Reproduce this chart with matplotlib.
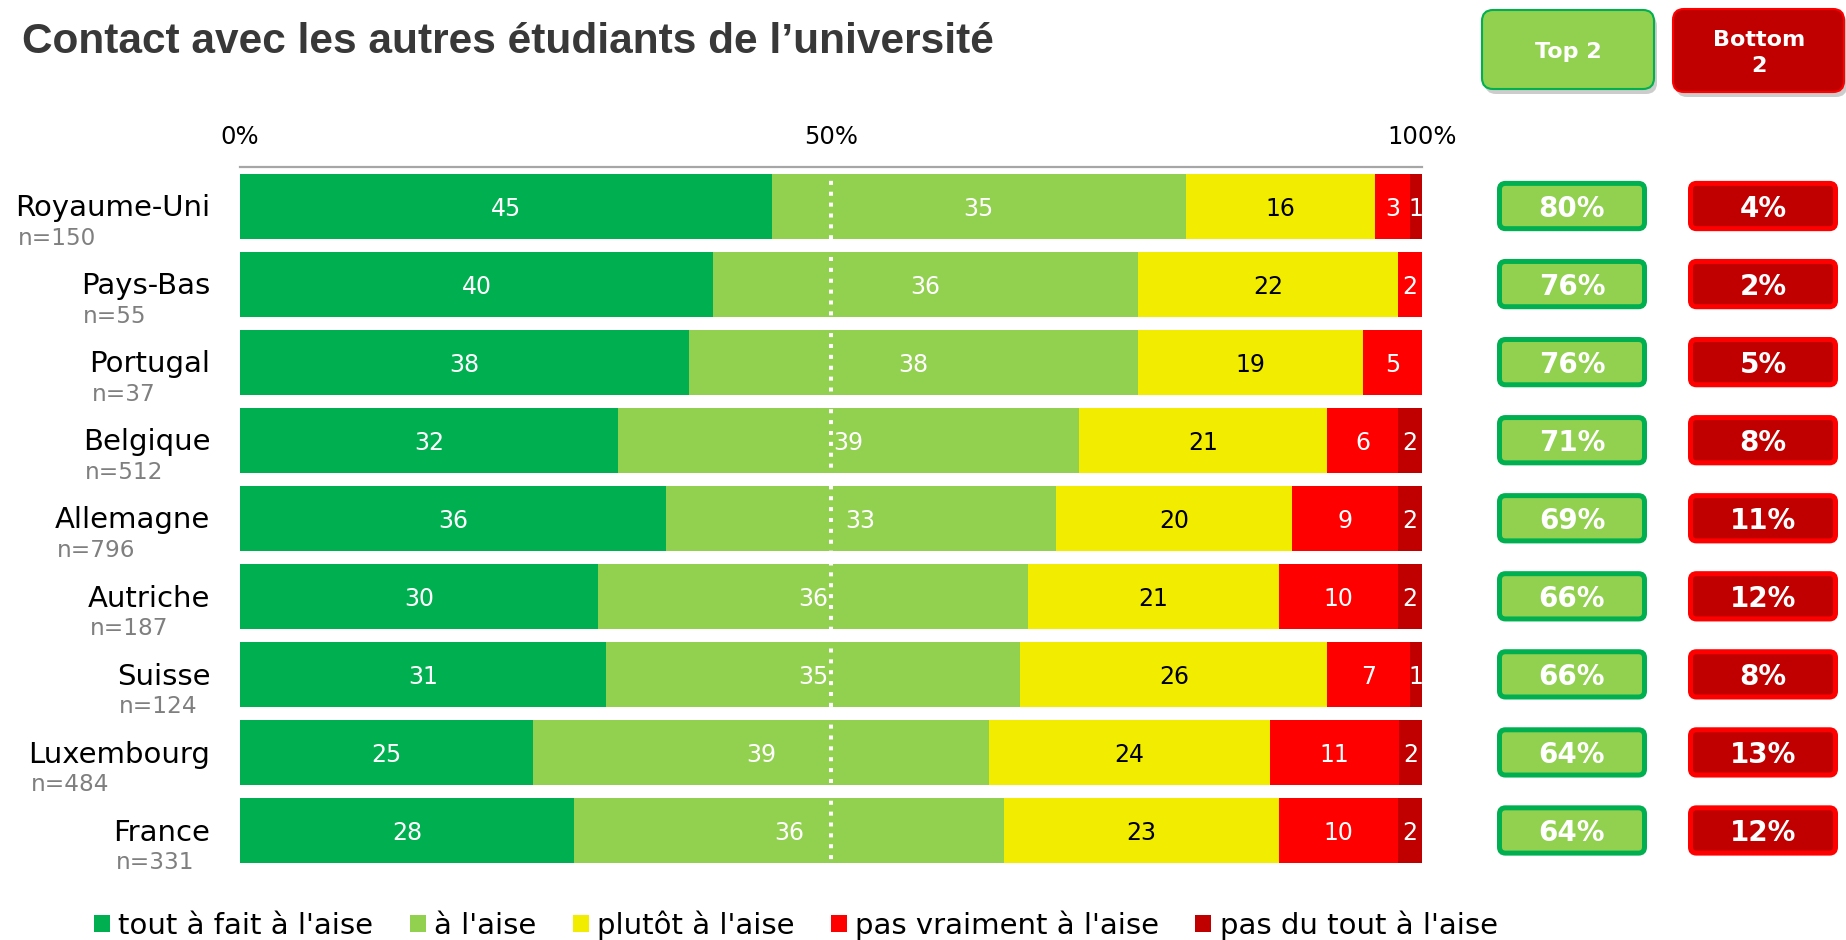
import matplotlib
matplotlib.use('Agg')
import matplotlib.pyplot as plt
from matplotlib.patches import FancyBboxPatch, Patch
import numpy as np

countries = ['Royaume-Uni', 'Pays-Bas', 'Portugal', 'Belgique', 'Allemagne',
             'Autriche', 'Suisse', 'Luxembourg', 'France']
sample_n = [150, 55, 37, 512, 796, 187, 124, 484, 331]
tout_a_fait = [45, 40, 38, 32, 36, 30, 31, 25, 28]
a_l_aise = [35, 36, 38, 39, 33, 36, 35, 39, 36]
plutot = [16, 22, 19, 21, 20, 21, 26, 24, 23]
pas_vraiment = [3, 2, 5, 6, 9, 10, 7, 11, 10]
pas_du_tout = [1, 0, 0, 2, 2, 2, 1, 2, 2]
categories = ["tout à fait à l'aise", "à l'aise", "plutôt à l'aise",
              "pas vraiment à l'aise", "pas du tout à l'aise"]
xticks = [0, 50, 100]
xticklabels = ['0%', '50%', '100%']

colors = ['#00B050', '#92D050', '#F2EC00', '#FF0000', '#C00000']
text_colors = ['white', 'white', 'black', 'white', 'white']

plt.rcParams['font.family'] = ['DejaVu Sans']

vals = np.array([tout_a_fait, a_l_aise, plutot, pas_vraiment, pas_du_tout]).T
# bars are stretched to 100% (rounded values don't always add up)
widths = vals / vals.sum(axis=1, keepdims=True) * 100
top2 = vals[:, 0] + vals[:, 1]
bottom2 = vals[:, 3] + vals[:, 4]

W, H = 1846, 940
fig = plt.figure(figsize=(W / 100, H / 100), dpi=100)

ax_bottom = 1 - 869.5 / H
ax_height = (869.5 - 167) / H
ax = fig.add_axes([240 / W, ax_bottom, 1182 / W, ax_height])

y = np.arange(len(countries))
left = np.zeros(len(countries))
for k in range(5):
    w = widths[:, k]
    ax.barh(y, w, left=left, height=0.833, color=colors[k], zorder=2)
    for i in range(len(countries)):
        if vals[i, k] > 0:
            ax.text(left[i] + w[i] / 2, y[i], str(vals[i, k]), ha='center',
                    va='center_baseline', fontsize=17, color=text_colors[k], zorder=4)
    left += w

# dotted 50% line
ax.axvline(50, color='white', lw=2.9, linestyle=(0, (1, 1.7)), zorder=3)

ax.set_xlim(0, 100)
ax.set_ylim(len(countries) - 0.5, -0.5)
ax.xaxis.tick_top()
ax.set_xticks(xticks)
ax.set_xticklabels(xticklabels, fontsize=17.5)
ax.tick_params(axis='x', length=0, pad=13)
ax.set_yticks([])
for s in ['left', 'right', 'bottom']:
    ax.spines[s].set_visible(False)
ax.spines['top'].set_color('#A6A6A6')
ax.spines['top'].set_linewidth(1.6)

# country names with sample size underneath
trans = ax.get_yaxis_transform()
for i, name in enumerate(countries):
    t = ax.text(-29.5 / 1182, i + 0.131, name, transform=trans, ha='right',
                va='baseline', fontsize=21, color='black')
    ax.annotate(f'n={sample_n[i]}', xy=(0, i + 0.494), xycoords=(t, 'data'),
                xytext=(1.5, 0), textcoords='offset points', ha='left',
                va='baseline', fontsize=16.7, color='#7F7F7F',
                annotation_clip=False)

# Top 2 / Bottom 2 value boxes
ax2 = fig.add_axes([1470 / W, ax_bottom, 376 / W, ax_height])
ax2.set_xlim(1470, 1846)
ax2.set_ylim(len(countries) - 0.5, -0.5)
ax2.axis('off')
for i in range(len(countries)):
    ax2.add_patch(FancyBboxPatch((1499.5, i - 0.29), 145, 0.58,
                                 boxstyle='round,pad=0,rounding_size=6',
                                 mutation_aspect=1 / 78, fc='#92D050',
                                 ec='#00B050', lw=3.6))
    ax2.text(1572, i, f'{top2[i]}%', ha='center', va='center_baseline',
             color='white', fontsize=20, fontweight='bold')
    ax2.add_patch(FancyBboxPatch((1690.5, i - 0.29), 145, 0.58,
                                 boxstyle='round,pad=0,rounding_size=6',
                                 mutation_aspect=1 / 78, fc='#C00000',
                                 ec='#FF0000', lw=3.6))
    ax2.text(1763, i, f'{bottom2[i]}%', ha='center', va='center_baseline',
             color='white', fontsize=20, fontweight='bold')

# header boxes
ax3 = fig.add_axes([0, 0, 1, 1])
ax3.set_xlim(0, W)
ax3.set_ylim(H, 0)
ax3.axis('off')
for (x0, y0, bw, bh, fc, ec) in [(1482, 10, 172, 79, '#92D050', '#00B050'),
                                 (1673, 9, 171, 83, '#C00000', '#FF0000')]:
    ax3.add_patch(FancyBboxPatch((x0 + 3, y0 + 5), bw, bh,
                                 boxstyle='round,pad=0,rounding_size=11',
                                 fc='black', ec='none', alpha=0.2))
    ax3.add_patch(FancyBboxPatch((x0, y0), bw, bh,
                                 boxstyle='round,pad=0,rounding_size=11',
                                 fc=fc, ec=ec, lw=1.5))
ax3.text(1568, 50, 'Top 2', ha='center', va='center_baseline', color='white',
         fontsize=16, fontweight='bold')
ax3.text(1759, 53, 'Bottom\n2', ha='center', va='center', color='white',
         fontsize=16, fontweight='bold', linespacing=1.32)

fig.text(22 / W, 1 - 53.3 / H, 'Contact avec les autres étudiants de l’université',
         fontsize=30.5, fontweight='bold', family=['Liberation Sans', 'DejaVu Sans'],
         color='#383838', va='baseline')

handles = [Patch(facecolor=c) for c in colors]
fig.legend(handles, categories, loc='center left',
           bbox_to_anchor=(94 / W, 1 - 925 / H), ncol=5, frameon=False,
           fontsize=21, handlelength=0.55, handleheight=0.55,
           handletextpad=0.28, columnspacing=1.25, borderpad=0,
           borderaxespad=0)

fig.savefig('out.png', dpi=100)
